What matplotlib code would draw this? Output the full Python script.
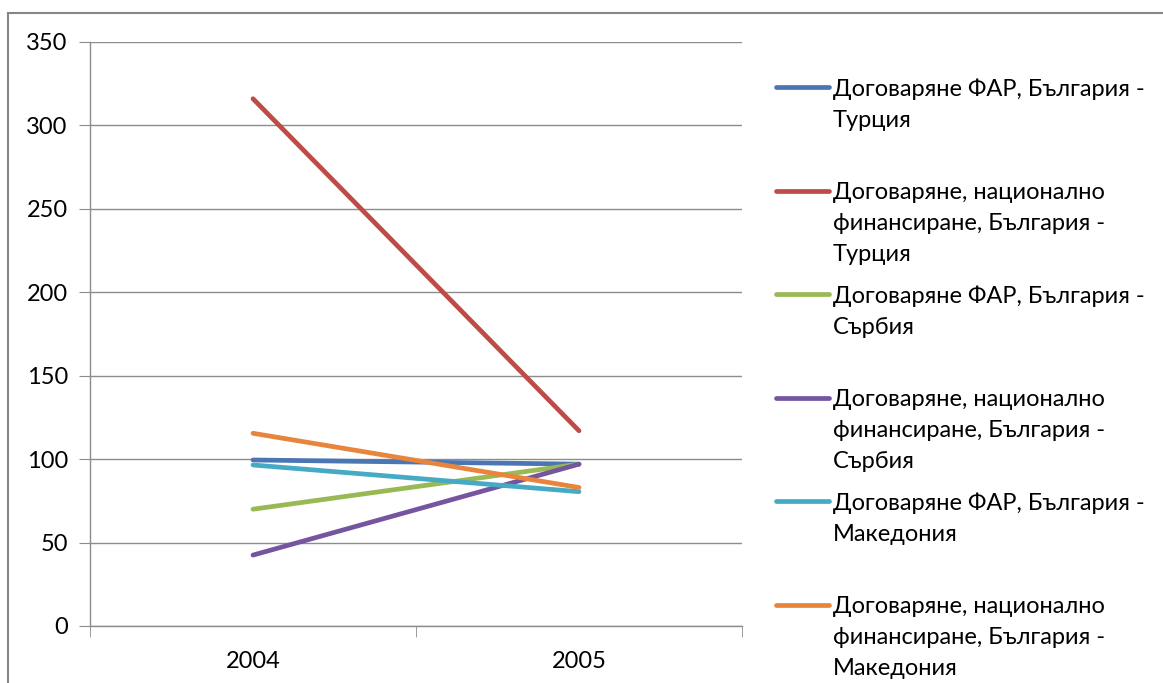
import matplotlib
matplotlib.use("Agg")
import matplotlib.pyplot as plt
from matplotlib.lines import Line2D

plt.rcParams["font.family"] = ["Lato", "Open Sans", "DejaVu Sans"]

years = ["2004", "2005"]
series_names = [
    "Договаряне ФАР, България -\nТурция",
    "Договаряне, национално\nфинансиране, България -\nТурция",
    "Договаряне ФАР, България -\nСърбия",
    "Договаряне, национално\nфинансиране, България -\nСърбия",
    "Договаряне ФАР, България -\nМакедония",
    "Договаряне, национално\nфинансиране, България -\nМакедония",
]
far_turkey = [99.5, 97]
nat_turkey = [316, 117]
far_serbia = [70, 97]
nat_serbia = [42.5, 97]
far_macedonia = [96.5, 80.5]
nat_macedonia = [115.5, 83]

series_values = [far_turkey, nat_turkey, far_serbia, nat_serbia, far_macedonia, nat_macedonia]
colors = ["#4A77B4", "#BE4B48", "#98B954", "#7554A0", "#46AAC5", "#E8843C"]

W, H = 1163, 683
fig = plt.figure(figsize=(W / 100, H / 100), dpi=100)
ax = fig.add_axes([90 / W, 1 - 626 / H, (742 - 90) / W, (626 - 42) / H])

x = list(range(len(years)))
for vals, c in zip(series_values, colors):
    ax.plot(x, vals, color=c, linewidth=3.4, solid_capstyle="round")

grid_c = "#8C8C8C"
ax.set_xlim(-0.5, 1.5)
ax.set_ylim(0, 350)
ax.set_yticks(range(0, 351, 50))
ax.yaxis.grid(True, color=grid_c, linewidth=1)
ax.set_axisbelow(True)
ax.set_xticks(x)
ax.set_xticklabels(years)
ax.set_xticks([-0.5, 0.5, 1.5], minor=True)
ax.tick_params(axis="x", which="major", length=0, pad=18, labelsize=17)
ax.tick_params(axis="x", which="minor", length=8, color=grid_c, direction="out")
ax.tick_params(axis="y", length=8, color=grid_c, labelsize=17, pad=8)
for side in ["top", "right"]:
    ax.spines[side].set_visible(False)
for side in ["left", "bottom"]:
    ax.spines[side].set_color(grid_c)
    ax.spines[side].set_linewidth(1)

# manual legend, Excel-style with handle on first line
y0 = 87
step = 103.6
for i, (name, c) in enumerate(zip(series_names, colors)):
    yy = 1 - (y0 + step * i) / H
    fig.add_artist(Line2D([776 / W, 829 / W], [yy, yy], color=c, linewidth=3.4,
                          solid_capstyle="round", transform=fig.transFigure))
    fig.text(833 / W, yy + 9 / H, name, fontsize=17, va="top", ha="left",
             linespacing=1.6)

# outer chart border
fig.add_artist(Line2D([8 / W, 8 / W], [0, 1 - 13 / H], color="#868686", linewidth=1.5,
                      transform=fig.transFigure))
fig.add_artist(Line2D([8 / W, 1], [1 - 13 / H, 1 - 13 / H], color="#868686", linewidth=1.5,
                      transform=fig.transFigure))

fig.savefig("out.png", dpi=100)
